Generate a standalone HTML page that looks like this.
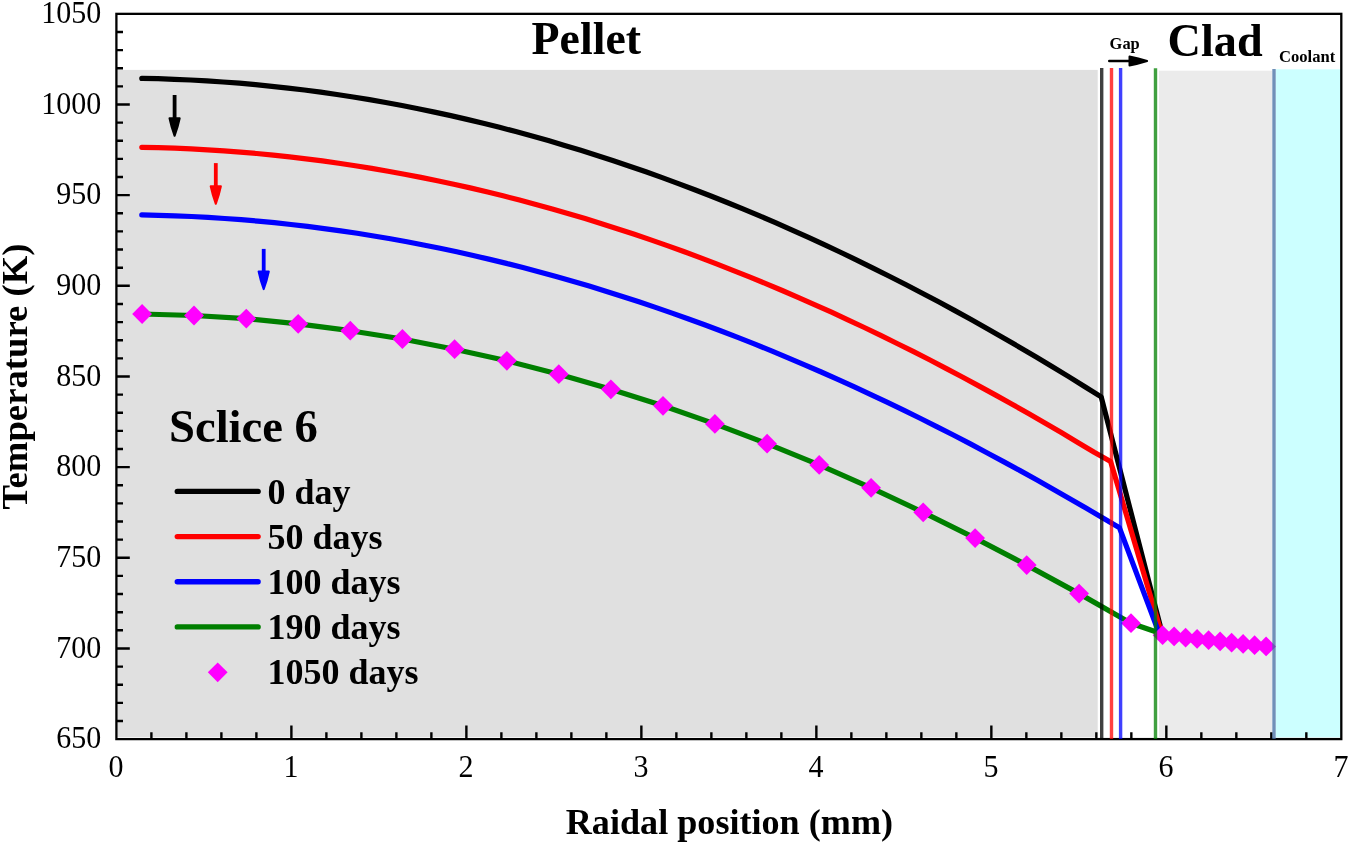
<!DOCTYPE html>
<html><head><meta charset="utf-8"><title>Temperature profile</title>
<style>html,body{margin:0;padding:0;background:#fff}svg{display:block}text{font-family:"Liberation Serif",serif;fill:#000}.b{font-weight:bold}</style></head><body>
<svg width="1350" height="844" viewBox="0 0 1350 844">
<rect width="1350" height="844" fill="#fff"/>
<rect x="116.4" y="69.9" width="981.3" height="667.1" fill="#e0e0e0"/>
<rect x="1159.0" y="70.7" width="113.0" height="666.3" fill="#ebebeb"/>
<rect x="1275.8" y="69.3" width="65.5" height="668.1" fill="#ccffff"/>
<g fill="none" stroke-width="5.2" stroke-linecap="round" stroke-linejoin="round">
<path d="M142.1 314.0 L194.0 315.5 L246.3 318.6 L298.2 323.8 L350.3 330.7 L402.4 339.0 L454.6 349.2 L506.9 360.8 L558.8 374.2 L610.9 389.3 L663.0 405.8 L714.9 423.9 L767.1 443.7 L819.2 464.9 L871.1 487.8 L923.2 512.3 L975.1 538.1 L1026.7 565.1 L1079.1 593.6 L1131.0 623.2 L1156.5 632.0 L1162.6 635.2 L1174.1 636.4 L1185.6 637.7 L1197.1 638.9 L1208.6 640.2 L1220.1 641.4 L1231.6 642.7 L1243.1 643.9 L1254.6 645.2 L1266.1 646.4" stroke="#007f00"/>
<path d="M141.8 78.4 L158.1 78.7 L174.3 79.3 L190.6 80.0 L206.8 80.9 L223.1 82.0 L239.4 83.2 L255.6 84.7 L271.9 86.3 L288.1 88.1 L304.4 90.0 L320.7 92.2 L336.9 94.5 L353.2 97.0 L369.5 99.6 L385.7 102.5 L402.0 105.5 L418.2 108.7 L434.5 112.1 L450.8 115.6 L467.0 119.4 L483.3 123.3 L499.5 127.3 L515.8 131.6 L532.1 136.0 L548.3 140.6 L564.6 145.4 L580.8 150.3 L597.1 155.4 L613.4 160.7 L629.6 166.2 L645.9 171.8 L662.2 177.6 L678.4 183.6 L694.7 189.7 L710.9 196.0 L727.2 202.5 L743.5 209.1 L759.7 215.9 L776.0 222.9 L792.2 230.1 L808.5 237.4 L824.8 244.9 L841.0 252.5 L857.3 260.3 L873.5 268.3 L889.8 276.5 L906.1 284.8 L922.3 293.2 L938.6 301.8 L954.9 310.6 L971.1 319.6 L987.4 328.7 L1003.6 338.0 L1019.9 347.4 L1036.2 357.0 L1052.4 366.7 L1068.7 376.6 L1084.9 386.7 L1101.2 396.9 L1162.6 635.2" stroke="#000"/>
<path d="M141.8 147.3 L158.2 147.6 L174.6 148.2 L191.1 148.9 L207.5 149.8 L223.9 150.8 L240.3 152.1 L256.7 153.5 L273.2 155.1 L289.6 156.9 L306.0 158.8 L322.4 160.9 L338.8 163.2 L355.3 165.7 L371.7 168.4 L388.1 171.2 L404.5 174.2 L420.9 177.4 L437.4 180.7 L453.8 184.2 L470.2 187.9 L486.6 191.8 L503.0 195.8 L519.5 200.0 L535.9 204.4 L552.3 209.0 L568.7 213.7 L585.1 218.6 L601.6 223.7 L618.0 228.9 L634.4 234.3 L650.8 239.9 L667.3 245.6 L683.7 251.5 L700.1 257.6 L716.5 263.9 L732.9 270.3 L749.4 276.9 L765.8 283.6 L782.2 290.5 L798.6 297.6 L815.0 304.8 L831.5 312.2 L847.9 319.8 L864.3 327.5 L880.7 335.4 L897.1 343.5 L913.6 351.7 L930.0 360.0 L946.4 368.6 L962.8 377.2 L979.2 386.1 L995.7 395.1 L1012.1 404.2 L1028.5 413.5 L1044.9 423.0 L1061.3 432.6 L1077.8 442.4 L1094.2 452.3 L1110.6 461.4 L1162.0 635.0" stroke="#ff0000"/>
<path d="M141.8 214.9 L158.4 215.3 L174.9 215.8 L191.5 216.5 L208.1 217.4 L224.7 218.5 L241.2 219.7 L257.8 221.1 L274.4 222.7 L290.9 224.5 L307.5 226.4 L324.1 228.6 L340.7 230.9 L357.2 233.3 L373.8 236.0 L390.4 238.8 L406.9 241.8 L423.5 245.0 L440.1 248.3 L456.7 251.8 L473.2 255.5 L489.8 259.4 L506.4 263.4 L522.9 267.6 L539.5 272.0 L556.1 276.5 L572.7 281.2 L589.2 286.1 L605.8 291.2 L622.4 296.4 L638.9 301.8 L655.5 307.4 L672.1 313.1 L688.6 319.0 L705.2 325.0 L721.8 331.3 L738.4 337.6 L754.9 344.2 L771.5 350.9 L788.1 357.8 L804.6 364.8 L821.2 372.0 L837.8 379.4 L854.4 386.9 L870.9 394.6 L887.5 402.4 L904.1 410.4 L920.6 418.5 L937.2 426.8 L953.8 435.3 L970.4 443.9 L986.9 452.7 L1003.5 461.6 L1020.1 470.6 L1036.6 479.8 L1053.2 489.2 L1069.8 498.7 L1086.4 508.3 L1102.9 518.1 L1119.5 527.8 L1159.6 634.6" stroke="#0000ff"/>
</g>
<g fill="#ff00ff">
<path d="M142.1 304.1L152.0 314.0L142.1 323.9L132.2 314.0Z"/>
<path d="M194.0 305.6L203.9 315.5L194.0 325.4L184.1 315.5Z"/>
<path d="M246.3 308.7L256.2 318.6L246.3 328.5L236.4 318.6Z"/>
<path d="M298.2 313.9L308.1 323.8L298.2 333.7L288.3 323.8Z"/>
<path d="M350.3 320.8L360.2 330.7L350.3 340.6L340.4 330.7Z"/>
<path d="M402.4 329.1L412.3 339.0L402.4 348.9L392.5 339.0Z"/>
<path d="M454.6 339.3L464.5 349.2L454.6 359.1L444.7 349.2Z"/>
<path d="M506.9 350.9L516.8 360.8L506.9 370.7L497.0 360.8Z"/>
<path d="M558.8 364.3L568.7 374.2L558.8 384.1L548.9 374.2Z"/>
<path d="M610.9 379.4L620.8 389.3L610.9 399.2L601.0 389.3Z"/>
<path d="M663.0 395.9L672.9 405.8L663.0 415.7L653.1 405.8Z"/>
<path d="M714.9 414.0L724.8 423.9L714.9 433.8L705.0 423.9Z"/>
<path d="M767.1 433.8L777.0 443.7L767.1 453.6L757.2 443.7Z"/>
<path d="M819.2 455.0L829.1 464.9L819.2 474.8L809.3 464.9Z"/>
<path d="M871.1 477.9L881.0 487.8L871.1 497.7L861.2 487.8Z"/>
<path d="M923.2 502.4L933.1 512.3L923.2 522.2L913.3 512.3Z"/>
<path d="M975.1 528.2L985.0 538.1L975.1 548.0L965.2 538.1Z"/>
<path d="M1026.7 555.2L1036.6 565.1L1026.7 575.0L1016.8 565.1Z"/>
<path d="M1079.1 583.7L1089.0 593.6L1079.1 603.5L1069.2 593.6Z"/>
<path d="M1131.0 613.3L1140.9 623.2L1131.0 633.1L1121.1 623.2Z"/>
<path d="M1162.6 625.3L1172.5 635.2L1162.6 645.1L1152.7 635.2Z"/>
<path d="M1174.1 626.5L1184.0 636.4L1174.1 646.3L1164.2 636.4Z"/>
<path d="M1185.6 627.8L1195.5 637.7L1185.6 647.6L1175.7 637.7Z"/>
<path d="M1197.1 629.0L1207.0 638.9L1197.1 648.8L1187.2 638.9Z"/>
<path d="M1208.6 630.3L1218.5 640.2L1208.6 650.1L1198.7 640.2Z"/>
<path d="M1220.1 631.5L1230.0 641.4L1220.1 651.3L1210.2 641.4Z"/>
<path d="M1231.6 632.8L1241.5 642.7L1231.6 652.6L1221.7 642.7Z"/>
<path d="M1243.1 634.0L1253.0 643.9L1243.1 653.8L1233.2 643.9Z"/>
<path d="M1254.6 635.3L1264.5 645.2L1254.6 655.1L1244.7 645.2Z"/>
<path d="M1266.1 636.5L1276.0 646.4L1266.1 656.3L1256.2 646.4Z"/>
<path d="M217.7 662.4L227.6 672.3L217.7 682.2L207.8 672.3Z"/>
</g>
<line x1="174.6" y1="95.0" x2="174.6" y2="119.2" stroke="#000" stroke-width="3.8" stroke-linecap="butt"/><path d="M169.50 118.20Q171.34 127.00 174.60 135.80Q177.86 127.00 179.70 118.20Z" fill="#000" stroke="#000" stroke-width="2" stroke-linejoin="round"/>
<line x1="215.8" y1="163.1" x2="215.8" y2="187.2" stroke="#ff0000" stroke-width="3.8" stroke-linecap="butt"/><path d="M210.70 186.20Q212.54 195.00 215.80 203.80Q219.06 195.00 220.90 186.20Z" fill="#ff0000" stroke="#ff0000" stroke-width="2" stroke-linejoin="round"/>
<line x1="263.7" y1="248.9" x2="263.7" y2="272.5" stroke="#0000ff" stroke-width="3.8" stroke-linecap="butt"/><path d="M258.60 271.50Q260.44 280.30 263.70 289.10Q266.96 280.30 268.80 271.50Z" fill="#0000ff" stroke="#0000ff" stroke-width="2" stroke-linejoin="round"/>
<line x1="1109.3" y1="61.0" x2="1130.5" y2="61.0" stroke="#000" stroke-width="2.6" stroke-linecap="round"/><path d="M1129.50 65.40Q1138.30 63.82 1147.10 61.00Q1138.30 58.18 1129.50 56.60Z" fill="#000" stroke="#000" stroke-width="2" stroke-linejoin="round"/>
<g stroke="#000" stroke-width="2.3" fill="none">
<rect x="116.40" y="13.85" width="1224.90" height="725.25"/>
<path d="M116.40 720.97h6.6M116.40 702.84h6.6M116.40 684.71h6.6M116.40 666.58h6.6M116.40 648.44h13.4M116.40 630.31h6.6M116.40 612.18h6.6M116.40 594.05h6.6M116.40 575.92h6.6M116.40 557.79h13.4M116.40 539.66h6.6M116.40 521.52h6.6M116.40 503.39h6.6M116.40 485.26h6.6M116.40 467.13h13.4M116.40 449.00h6.6M116.40 430.87h6.6M116.40 412.74h6.6M116.40 394.61h6.6M116.40 376.48h13.4M116.40 358.34h6.6M116.40 340.21h6.6M116.40 322.08h6.6M116.40 303.95h6.6M116.40 285.82h13.4M116.40 267.69h6.6M116.40 249.56h6.6M116.40 231.42h6.6M116.40 213.29h6.6M116.40 195.16h13.4M116.40 177.03h6.6M116.40 158.90h6.6M116.40 140.77h6.6M116.40 122.64h6.6M116.40 104.51h13.4M116.40 86.38h6.6M116.40 68.24h6.6M116.40 50.11h6.6M116.40 31.98h6.6M151.40 739.10v-6.9M186.40 739.10v-6.9M221.39 739.10v-6.9M256.39 739.10v-6.9M291.39 739.10v-13.6M326.39 739.10v-6.9M361.39 739.10v-6.9M396.38 739.10v-6.9M431.38 739.10v-6.9M466.38 739.10v-13.6M501.38 739.10v-6.9M536.38 739.10v-6.9M571.37 739.10v-6.9M606.37 739.10v-6.9M641.37 739.10v-13.6M676.37 739.10v-6.9M711.37 739.10v-6.9M746.36 739.10v-6.9M781.36 739.10v-6.9M816.36 739.10v-13.6M851.36 739.10v-6.9M886.36 739.10v-6.9M921.35 739.10v-6.9M956.35 739.10v-6.9M991.35 739.10v-13.6M1026.35 739.10v-6.9M1061.35 739.10v-6.9M1096.34 739.10v-6.9M1131.34 739.10v-6.9M1166.34 739.10v-13.6M1201.34 739.10v-6.9M1236.34 739.10v-6.9M1271.33 739.10v-6.9M1306.33 739.10v-6.9" stroke-width="2.4"/>
</g>
<g stroke-width="3.4" fill="none">
<line x1="1101.7" y1="68.0" x2="1101.7" y2="739.1" stroke="#000" stroke-opacity="0.75"/>
<line x1="1111.5" y1="68.0" x2="1111.5" y2="739.1" stroke="#ff0000" stroke-opacity="0.75"/>
<line x1="1120.6" y1="68.0" x2="1120.6" y2="739.1" stroke="#0000ff" stroke-opacity="0.75"/>
<line x1="1155.5" y1="68.3" x2="1155.5" y2="739.1" stroke="#008000" stroke-opacity="0.75"/>
<line x1="1274.0" y1="68.9" x2="1274.0" y2="739.1" stroke="#406ba0" stroke-opacity="0.75"/>
</g>
<text font-size="30.0" text-anchor="end" transform="translate(101.3,748.2) scale(1.000,1.050)">650</text>
<text font-size="30.0" text-anchor="end" transform="translate(101.3,657.5) scale(1.000,1.050)">700</text>
<text font-size="30.0" text-anchor="end" transform="translate(101.3,566.9) scale(1.000,1.050)">750</text>
<text font-size="30.0" text-anchor="end" transform="translate(101.3,476.2) scale(1.000,1.050)">800</text>
<text font-size="30.0" text-anchor="end" transform="translate(101.3,385.6) scale(1.000,1.050)">850</text>
<text font-size="30.0" text-anchor="end" transform="translate(101.3,294.9) scale(1.000,1.050)">900</text>
<text font-size="30.0" text-anchor="end" transform="translate(101.3,204.3) scale(1.000,1.050)">950</text>
<text font-size="30.0" text-anchor="end" transform="translate(101.3,113.6) scale(1.000,1.050)">1000</text>
<text font-size="30.0" text-anchor="end" transform="translate(101.3,22.9) scale(1.000,1.050)">1050</text>
<text font-size="30.0" text-anchor="middle" transform="translate(116.0,776.6) scale(1.000,1.050)">0</text>
<text font-size="30.0" text-anchor="middle" transform="translate(291.0,776.6) scale(1.000,1.050)">1</text>
<text font-size="30.0" text-anchor="middle" transform="translate(466.0,776.6) scale(1.000,1.050)">2</text>
<text font-size="30.0" text-anchor="middle" transform="translate(641.0,776.6) scale(1.000,1.050)">3</text>
<text font-size="30.0" text-anchor="middle" transform="translate(816.0,776.6) scale(1.000,1.050)">4</text>
<text font-size="30.0" text-anchor="middle" transform="translate(991.0,776.6) scale(1.000,1.050)">5</text>
<text font-size="30.0" text-anchor="middle" transform="translate(1165.9,776.6) scale(1.000,1.050)">6</text>
<text font-size="30.0" text-anchor="middle" transform="translate(1340.9,776.6) scale(1.000,1.050)">7</text>
<text class="b" font-size="36.0" text-anchor="middle" transform="translate(729.4,833.5) scale(1.004,1.000)">Raidal position (mm)</text>
<text class="b" font-size="36.0" text-anchor="middle" transform="translate(27.0,376.5) rotate(-90) scale(1.020,1.000)">Temperature (K)</text>
<text class="b" font-size="45.3" text-anchor="start" transform="translate(531.6,54.4) scale(1.013,1.030)">Pellet</text>
<text class="b" font-size="45.3" text-anchor="start" transform="translate(1167.6,56.0) scale(1.020,1.030)">Clad</text>
<text class="b" font-size="16.3" text-anchor="start" transform="translate(1109.6,49.1) scale(1.010,1.030)">Gap</text>
<text class="b" font-size="16.3" text-anchor="start" transform="translate(1279.0,62.2) scale(1.020,1.030)">Coolant</text>
<text class="b" font-size="45.3" text-anchor="start" transform="translate(169.0,441.7) scale(1.030,1.030)">Sclice 6</text>
<line x1="177.3" y1="491.4" x2="258.1" y2="491.4" stroke="#000" stroke-width="5.4" stroke-linecap="round"/>
<text class="b" font-size="36.0" text-anchor="start" transform="translate(267.6,503.6)">0 day</text>
<line x1="177.3" y1="536.6" x2="258.1" y2="536.6" stroke="#ff0000" stroke-width="5.4" stroke-linecap="round"/>
<text class="b" font-size="36.0" text-anchor="start" transform="translate(267.6,548.8)">50 days</text>
<line x1="177.3" y1="581.7" x2="258.1" y2="581.7" stroke="#0000ff" stroke-width="5.4" stroke-linecap="round"/>
<text class="b" font-size="36.0" text-anchor="start" transform="translate(267.6,593.9)">100 days</text>
<line x1="177.3" y1="626.9" x2="258.1" y2="626.9" stroke="#007f00" stroke-width="5.4" stroke-linecap="round"/>
<text class="b" font-size="36.0" text-anchor="start" transform="translate(267.6,639.1)">190 days</text>
<text class="b" font-size="36.0" text-anchor="start" transform="translate(267.6,684.3)">1050 days</text>
</svg></body></html>
